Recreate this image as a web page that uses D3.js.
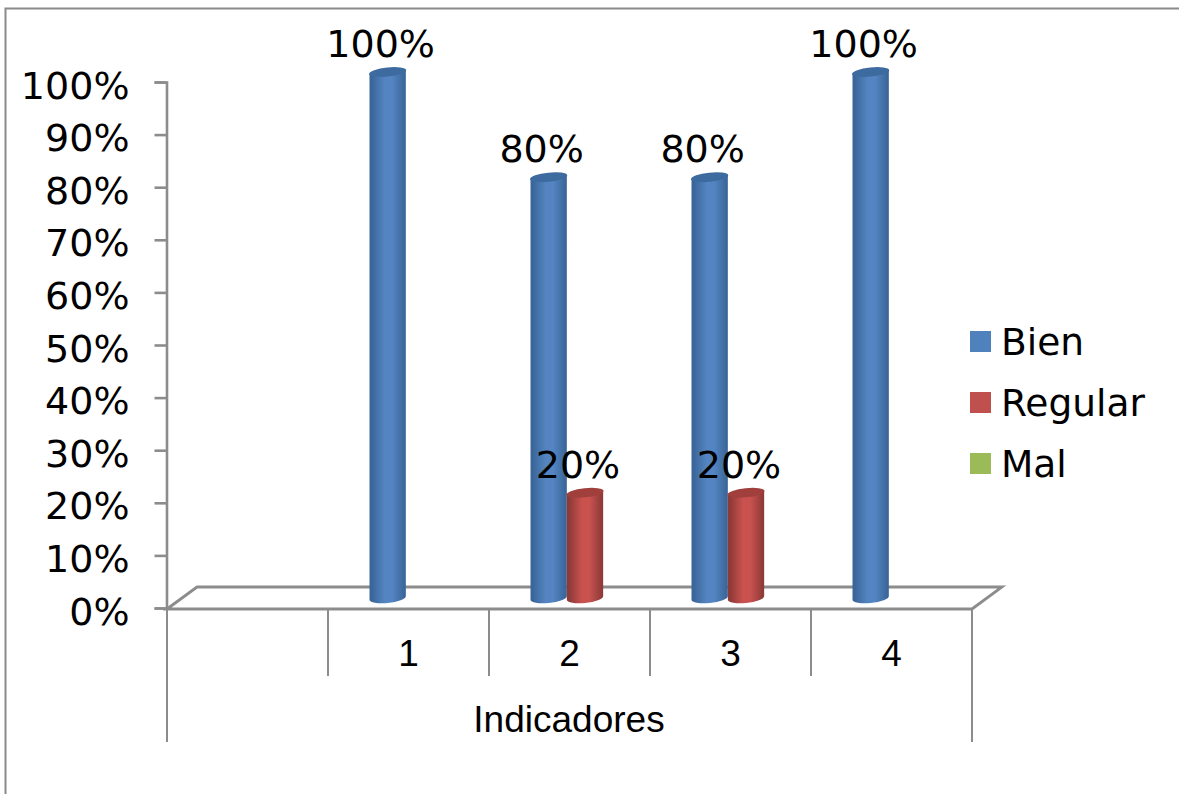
<!DOCTYPE html>
<html>
<head>
<meta charset="utf-8">
<script src="https://cdnjs.cloudflare.com/ajax/libs/d3/7.8.5/d3.min.js"></script>
<style>
  html, body { margin: 0; padding: 0; background: #fff; overflow: hidden; }
  svg { display: block; }
  .dv { font-family: "DejaVu Sans", sans-serif; font-size: 38px; fill: #000; }
  .lg { font-family: "DejaVu Sans", sans-serif; font-size: 37.5px; fill: #000; }
  .ar { font-family: "Liberation Sans", Arial, sans-serif; font-size: 37px; fill: #000; }
</style>
</head>
<body>
<svg id="chart" width="1179" height="794"></svg>
<script>
// Chart content
const categories = ["", "1", "2", "3", "4"];
const seriesNames = ["Bien", "Regular", "Mal"];
const bien = [null, 100, 80, 80, 100];
const regular = [null, null, 20, 20, null];
const mal = [null, null, null, null, null];
const yTicks = [0, 10, 20, 30, 40, 50, 60, 70, 80, 90, 100];
const axisTitle = "Indicadores";
const seriesValues = [bien, regular, mal];
const seriesColors = ["#5485c2", "#c9524f", "#9bbb59"];
const legendColors = ["#4f81bd", "#c0504d", "#9bbb59"];
const seriesEdges = ["#3a6699", "#8e3a38", "#6f8a3a"];
const seriesCaps = ["#3d6b9f", "#a03f3c", "#7f9c45"];

const svg = d3.select("#chart");
const grey = "#8c8c8c";

// Frame around the plot: only the top and left edges are visible
svg.append("path")
  .attr("d", "M1179,8.5H5.5V794")
  .attr("fill", "none").attr("stroke", "#8a8a8a").attr("stroke-width", 2);

// Scales
const plot = { left: 167, right: 972, top: 82, bottom: 608 };
const depth = { dx: 30, dy: 21 };
const barLift = 10;
const x = d3.scaleBand().domain(categories).range([plot.left, plot.right]);
const y = d3.scaleLinear().domain([0, 100]).range([plot.bottom, plot.top]);
const inner = d3.scaleBand().domain(seriesNames).range([-39, 70]);

// Value axis
const yAxis = svg.append("g")
  .attr("transform", `translate(${plot.left - 0.5},0)`)
  .call(d3.axisLeft(y).tickValues(yTicks).tickFormat(d => d + "%").tickSize(12).tickPadding(25));
yAxis.selectAll("path,line").attr("stroke", grey).attr("stroke-width", 2.6);
yAxis.selectAll("text")
  .attr("class", "dv")
  .attr("dy", null)
  .attr("dominant-baseline", "auto")
  .attr("transform", "translate(0,16)")
  .attr("text-anchor", "end");

// Chart floor drawn as a parallelogram
svg.append("path")
  .attr("d", `M${plot.left},${y(0) + 1}L${plot.left + depth.dx},${y(0) - depth.dy}H${plot.right + depth.dx}L${plot.right},${y(0) + 1}Z`)
  .attr("fill", "none").attr("stroke", grey).attr("stroke-width", 2.8);

// Category axis: dividers between categories plus the longer outer edges
const edges = categories.map(c => x(c)).concat(plot.right);
svg.append("g").selectAll("line").data(edges).join("line")
  .attr("x1", d => d).attr("x2", d => d)
  .attr("y1", y(0) + 1)
  .attr("y2", (d, i) => (i === 0 || i === edges.length - 1) ? 742 : 676)
  .attr("stroke", grey).attr("stroke-width", 2);

svg.append("g").selectAll("text").data(categories).join("text")
  .attr("class", "ar")
  .attr("x", d => x(d) + x.bandwidth() / 2)
  .attr("y", 666)
  .attr("text-anchor", "middle")
  .text(d => d);

svg.append("text").attr("class", "ar")
  .attr("x", 569).attr("y", 732).attr("text-anchor", "middle")
  .text(axisTitle);

// Horizontal shading that gives each bar its cylinder look
const defs = svg.append("defs");
seriesNames.forEach((name, i) => {
  const g = defs.append("linearGradient").attr("id", "cyl" + i);
  [[0, seriesEdges[i]], [0.06, seriesEdges[i]], [0.42, seriesColors[i]], [0.62, seriesColors[i]], [0.97, seriesEdges[i]], [1, seriesEdges[i]]]
    .forEach(([o, c]) => g.append("stop").attr("offset", o).attr("stop-color", c));
});

// Cylinders, with slightly tilted end caps
const bars = seriesNames.flatMap((name, s) =>
  categories.map((c, i) => ({ s, name, c, v: seriesValues[s][i] })).filter(d => d.v !== null));

const tilt = 0.10;
const marks = svg.append("g").selectAll("g").data(bars).join("g");
marks.append("path")
  .attr("fill", d => `url(#cyl${d.s})`)
  .attr("d", d => {
    const w = inner.bandwidth();
    const x0 = x(d.c) + x.bandwidth() / 2 + inner(d.name);
    const top = y(d.v) - barLift;
    const bot = y(0) - barLift;
    const rx = w / 2, ry = 5;
    return `M${x0},${top + w * tilt / 2}` +
      `L${x0},${bot + w * tilt / 2}` +
      `A${rx},${ry} -6 0 0 ${x0 + w},${bot - w * tilt / 2}` +
      `L${x0 + w},${top - w * tilt / 2}Z`;
  });
marks.append("ellipse")
  .attr("fill", d => seriesCaps[d.s])
  .attr("rx", inner.bandwidth() / 2 + 0.5).attr("ry", 4.6)
  .attr("transform", d => {
    const cx = x(d.c) + x.bandwidth() / 2 + inner(d.name) + inner.bandwidth() / 2;
    return `translate(${cx},${y(d.v) - barLift}) rotate(-6)`;
  });

// Value labels above the bars
svg.append("g").selectAll("text").data(bars).join("text")
  .attr("class", "dv")
  .attr("x", d => x(d.c) + x.bandwidth() / 2 + inner(d.name) + inner.bandwidth() / 2 - 7)
  .attr("y", d => y(d.v) - barLift - 15)
  .attr("text-anchor", "middle")
  .text(d => d.v + "%");

// Legend
const legend = svg.append("g").selectAll("g").data(seriesNames).join("g")
  .attr("transform", (d, i) => `translate(970,${331 + i * 61})`);
legend.append("rect").attr("width", 21).attr("height", 21).attr("fill", (d, i) => legendColors[i]);
legend.append("text").attr("class", "lg").attr("x", 31).attr("y", 24).text(d => d);
</script>
</body>
</html>
